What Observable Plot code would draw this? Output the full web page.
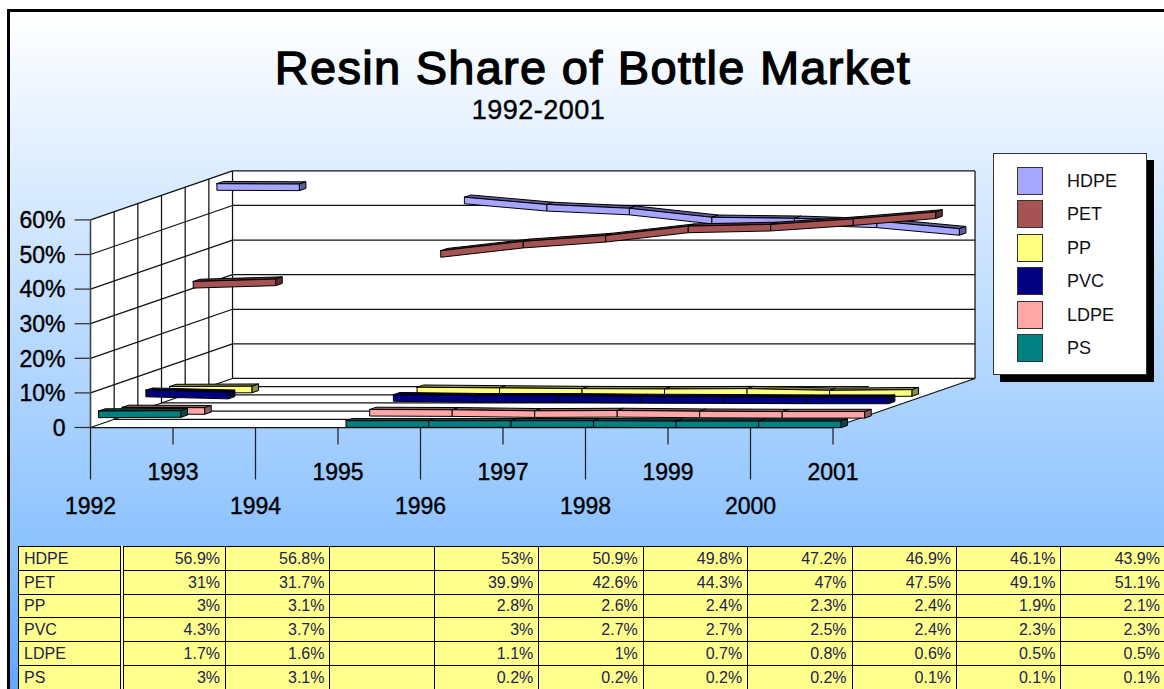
<!DOCTYPE html>
<html><head><meta charset="utf-8">
<script src="https://cdn.jsdelivr.net/npm/d3@7"></script>
<script src="https://cdn.jsdelivr.net/npm/@observablehq/plot@0.6"></script>
<style>
html,body{margin:0;padding:0;background:#fff;overflow:hidden;width:1164px;height:689px;font-family:"Liberation Sans",Arial,sans-serif}
#frame{position:absolute;left:7px;top:9px;width:1157px;height:680px;box-sizing:border-box;border-left:3px solid #000;border-top:3px solid #000;background:linear-gradient(#fff 0,#8cc2ff 534px,#5fa8ff 677px);overflow:hidden}
#chart{position:absolute;left:0;top:0}
#title{position:absolute;left:0;top:45.7px;width:1186px;text-align:center;font-size:47px;line-height:44px;-webkit-text-stroke:1.3px #000;color:#000;letter-spacing:1.27px}
#sub{position:absolute;left:0;top:98.6px;width:1077px;text-align:center;font-size:27px;line-height:22px;-webkit-text-stroke:.4px #000;color:#000;letter-spacing:.5px}
#legend{position:absolute;left:993px;top:153px;width:154px;height:222px;box-sizing:border-box;background:#fff;border:1px solid #333;box-shadow:7px 7px 0 #000}
.item{position:absolute;left:23px;width:26px;height:28px;box-sizing:border-box;border:1px solid #333}
.lab{position:absolute;left:73px;font-size:18px;line-height:28px;color:#111}
#tbl{position:absolute;left:18px;top:546px;width:1148px;border-collapse:collapse;table-layout:fixed;background:#ffff8c;font-size:16px;color:#22224f}
#tbl td{border:1px solid #000;height:23.75px;box-sizing:border-box;padding:1px 5px 0 5px;line-height:20px;text-align:right;white-space:nowrap;overflow:hidden}
#tbl td.h{text-align:left;border-right:4px double #000}
</style></head>
<body>
<div id="frame"></div>
<div id="chart"></div>
<div id="title">Resin Share of Bottle Market</div>
<div id="sub">1992-2001</div>
<div id="legend"></div>
<table id="tbl"></table>
<script>
const years=[1992,1993,1994,1995,1996,1997,1998,1999,2000,2001];
const seriesNames=["HDPE","PET","PP","PVC","LDPE","PS"];
const HDPE=[56.9,56.8,null,53,50.9,49.8,47.2,46.9,46.1,43.9];
const PET=[31,31.7,null,39.9,42.6,44.3,47,47.5,49.1,51.1];
const PP=[3,3.1,null,2.8,2.6,2.4,2.3,2.4,1.9,2.1];
const PVC=[4.3,3.7,null,3,2.7,2.7,2.5,2.4,2.3,2.3];
const LDPE=[1.7,1.6,null,1.1,1,0.7,0.8,0.6,0.5,0.5];
const PS=[3,3.1,null,0.2,0.2,0.2,0.2,0.1,0.1,0.1];
const seriesValues=[HDPE,PET,PP,PVC,LDPE,PS];
const faceColors=["#a6a6ff","#a65353","#ffff80","#000080","#ffa6a6","#008080"];
const topColors=["#5d5d99","#5e2e2e","#8c8c47","#000040","#8c5c5c","#004a4a"];
const yTicks=[0,10,20,30,40,50,60];

// oblique projection of (category, depth, value) into the chart's own x/y data space
const pxX=82.5, pxY=3.46, originX=90, originY=427;
const DX=23.67/pxX, DY=8.17/pxY, depths=6;
const P=(i,d,v)=>({x:i+d*DX,y:v+d*DY});
const polys=[];
const poly=(id,fill,pts)=>{[...pts,pts[0]].forEach(p=>polys.push({id,fill,x:p.x,y:p.y}));};
const lastI=years.length-1, maxV=60;

poly("wall","#fff",[P(0,0,0),P(0,0,maxV),P(0,depths,maxV),P(lastI,depths,maxV),P(lastI,depths,0),P(lastI,0,0)]);

const ribbons=[];
const rib=(id,fill,pts)=>{[...pts,pts[0]].forEach(p=>ribbons.push({id,fill,x:p.x,y:p.y}));};
const h=0.95, off=0.34, thick=0.275;
seriesValues.forEach((vals,s)=>{
  const d0=depths-1-s+off, d1=d0+thick;
  for(let i=0;i<lastI;i++){
    const a=vals[i], b=vals[i+1];
    if(a==null||b==null) continue;
    rib(`t${s}-${i}`,topColors[s],[P(i,d0,a+h),P(i+1,d0,b+h),P(i+1,d1,b+h),P(i,d1,a+h)]);
    rib(`f${s}-${i}`,faceColors[s],[P(i,d0,a+h),P(i+1,d0,b+h),P(i+1,d0,b-h),P(i,d0,a-h)]);
    if(i+2>lastI||vals[i+2]==null)
      rib(`e${s}-${i}`,topColors[s],[P(i+1,d0,b+h),P(i+1,d1,b+h),P(i+1,d1,b-h),P(i+1,d0,b-h)]);
  }
});

const seg=(a,b)=>({x1:a.x,y1:a.y,x2:b.x,y2:b.y});
const grid=[];
yTicks.forEach(v=>{grid.push(seg(P(0,0,v),P(0,depths,v)));grid.push(seg(P(0,depths,v),P(lastI,depths,v)));});
for(let d=1;d<depths;d++){grid.push(seg(P(0,d,0),P(0,d,maxV)));grid.push(seg(P(0,d,0),P(8,d,0)));}
grid.push(seg(P(0,depths,0),P(0,depths,maxV)));
grid.push(seg(P(lastI,depths,0),P(lastI,depths,maxV)));
grid.push(seg(P(lastI,0,0),P(lastI,depths,0)));
grid.push(seg(P(0,0,0),P(lastI,0,0)));

const yTickLen=16/pxX, xTickShort=17/pxY, xTickLong=52/pxY, labelNear=45/pxY, labelFar=79/pxY;
const chart=Plot.plot({
  width:1164,height:689,margin:0,
  x:{domain:[-originX/pxX,(1164-originX)/pxX],range:[0,1164],axis:null},
  y:{domain:[(originY-689)/pxY,originY/pxY],range:[689,0],axis:null},
  color:{type:"identity"},
  style:{background:"none"},
  marks:[
    Plot.line(polys,{x:"x",y:"y",z:"id",fill:"fill",stroke:"none"}),
    Plot.link(grid,{x1:"x1",y1:"y1",x2:"x2",y2:"y2",stroke:"#111",strokeWidth:1.25}),
    Plot.link(yTicks,{x1:-yTickLen,x2:0,y1:d=>d,y2:d=>d,stroke:"#333",strokeWidth:1.25}),
    Plot.link([0],{x1:0,x2:0,y1:0,y2:maxV,stroke:"#444",strokeWidth:1.6}),
    Plot.link(years.map((y,i)=>i),{x1:d=>d,x2:d=>d,y1:0,y2:d=>d%2?-xTickShort:-xTickLong,stroke:"#222",strokeWidth:1.25}),
    Plot.line(ribbons,{x:"x",y:"y",z:"id",fill:"fill",stroke:"#000",strokeWidth:1}),
    Plot.text(yTicks,{x:0,y:d=>d,dx:-25,dy:1,text:d=>d===0?"0":d+"%",textAnchor:"end",fontSize:23,fontFamily:"Liberation Sans",fill:"#000",stroke:"#000",strokeWidth:0.4}),
    Plot.text(years.map((y,i)=>i),{x:d=>d,y:d=>d%2?-labelNear:-labelFar,text:d=>String(years[d]),fontSize:23,fontFamily:"Liberation Sans",fill:"#000",stroke:"#000",strokeWidth:0.4})
  ]
});
document.getElementById("chart").appendChild(chart);

const leg=document.getElementById("legend");
seriesNames.forEach((n,i)=>{
  const top=13+i*33.4;
  leg.insertAdjacentHTML("beforeend",`<div class="item" style="top:${top}px;background:${faceColors[i]}"></div><div class="lab" style="top:${top}px">${n}</div>`);
});
const tbl=document.getElementById("tbl");
let html=`<colgroup><col style="width:103px"><col style="width:104px">${years.slice(1).map(()=>'<col style="width:104.4px">').join("")}</colgroup>`;
seriesNames.forEach((n,s)=>{
  html+=`<tr><td class="h">${n}</td>${seriesValues[s].map(v=>`<td>${v==null?"":v+"%"}</td>`).join("")}</tr>`;
});
tbl.innerHTML=html;
</script>
</body></html>
